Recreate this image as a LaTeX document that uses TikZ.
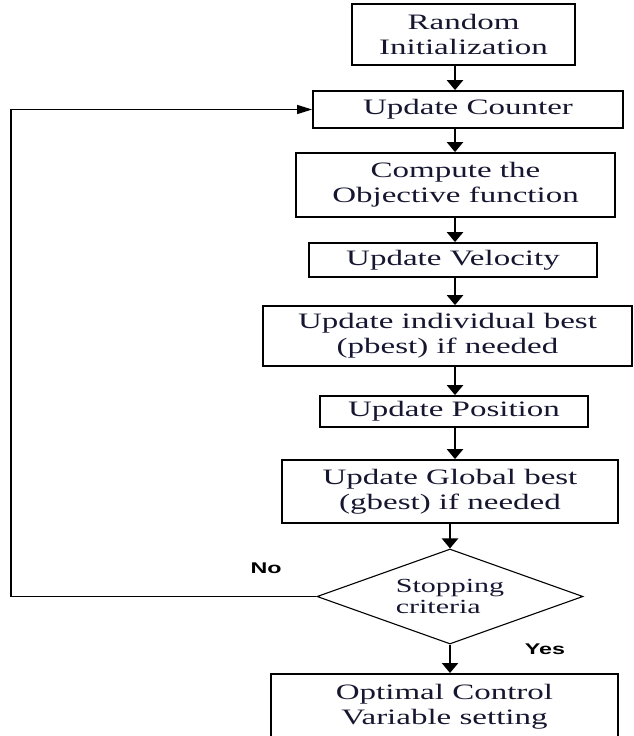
\documentclass[tikz,border=0pt]{standalone}
\usepackage{fontspec}
\setmainfont{Liberation Serif}[FakeStretch=1.5]
\newfontfamily\yesnofont{Liberation Sans}[FakeStretch=1.5]
\usetikzlibrary{shapes.geometric,arrows.meta}

\definecolor{inkblue}{RGB}{22,22,48}
\tikzset{
  stepbox/.style={draw,line width=1.8pt,align=center,inner sep=0pt,text=inkblue,
    font=\fontsize{22}{25}\selectfont},
  testbox/.style={draw,diamond,aspect=2.8,line width=1.1pt,align=left,inner sep=0pt,text=inkblue,
    font=\fontsize{20}{21}\selectfont},
  flow/.style={line width=2.8pt,-{Triangle[width=16pt,length=10pt]}},
  loopback/.style={line width=1.3pt,-{Triangle[width=9pt,length=15pt]}},
  answer/.style={font=\yesnofont\bfseries\fontsize{15.5}{18}\selectfont}
}

\begin{document}
\begin{tikzpicture}[x=1pt,y=-1pt]
\useasboundingbox (0,0) rectangle (633,736);
% the PSO steps, top to bottom
\node[stepbox,minimum width=223pt,minimum height=61pt] (init) at (463.5,34.5) {Random\\Initialization};
\node[stepbox,minimum width=310pt,minimum height=37pt] (counter) at (468,109.5) {Update Counter};
\node[stepbox,minimum width=319pt,minimum height=64pt] (objective) at (455.5,185) {Compute the\\Objective function};
\node[stepbox,minimum width=288pt,minimum height=34pt] (velocity) at (453,260) {Update Velocity};
\node[stepbox,minimum width=369pt,minimum height=60pt] (pbest) at (447.5,336) {Update individual best\\(pbest) if needed};
\node[stepbox,minimum width=268pt,minimum height=31pt] (position) at (454,411.5) {Update Position};
\node[stepbox,minimum width=336pt,minimum height=63pt] (gbest) at (450,491.5) {Update Global best\\(gbest) if needed};
\node[testbox,minimum width=266pt,minimum height=95pt] (stop) at (450,596.5) {Stopping\\criteria};
\node[stepbox,anchor=north,minimum width=347pt,inner ysep=10pt,text depth=45pt] (optimal) at (444.5,673) {Optimal Control\\Variable setting};

% straight arrows down the column
\coordinate (spine) at (455,0);
\draw[flow] (init.south -| spine) -- (counter.north -| spine);
\draw[flow] (counter.south -| spine) -- (objective.north -| spine);
\draw[flow] (objective.south -| spine) -- (velocity.north -| spine);
\draw[flow] (velocity.south -| spine) -- (pbest.north -| spine);
\draw[flow] (pbest.south -| spine) -- (position.north -| spine);
\draw[flow] (position.south -| spine) -- (gbest.north -| spine);
\draw[flow] (gbest.south) -- (stop.north);
\draw[flow] (stop.south) -- (stop.south |- optimal.north);

% loop back when not finished
\coordinate (corner) at (11,0);
\draw[loopback] (stop.west) -- (stop.west -| corner) -- (counter.west -| corner) -- (counter.west);
\node[answer] (no) at (266,568) {No};
\node[answer] (yes) at (545,649) {Yes};
\end{tikzpicture}
\end{document}
